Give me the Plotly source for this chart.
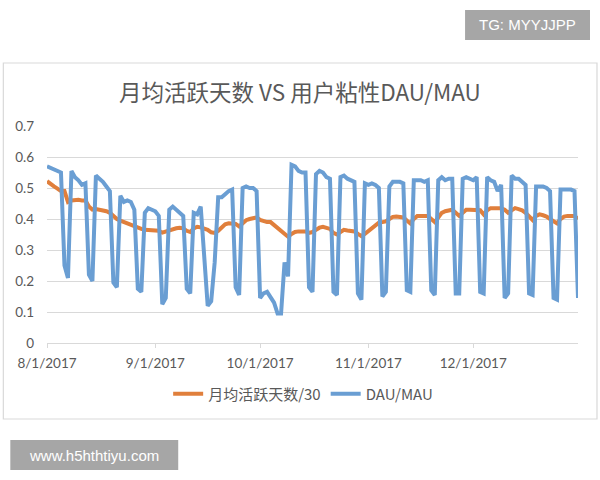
import plotly.graph_objects as go
import pandas as pd

# ---- data ----
dates = pd.date_range("2017-08-01", "2017-12-31", freq="D")

dau_mau = [
    0.57, 0.565, 0.56, 0.555, 0.55, 0.25, 0.21,
    0.555, 0.535, 0.525, 0.51, 0.515, 0.22, 0.20,
    0.54, 0.53, 0.52, 0.505, 0.49, 0.195, 0.18,
    0.475, 0.455, 0.46, 0.455, 0.43, 0.175, 0.165,
    0.42, 0.435, 0.43, 0.425, 0.41, 0.125, 0.145,
    0.43, 0.44, 0.43, 0.42, 0.41, 0.175, 0.16,
    0.42, 0.415, 0.44, 0.30, 0.12, 0.135, 0.26,
    0.47, 0.47, 0.48, 0.49, 0.495, 0.18, 0.155,
    0.50, 0.505, 0.50, 0.50, 0.49, 0.145, 0.16,
    0.165, 0.15, 0.13, 0.095, 0.095, 0.26, 0.215,
    0.575, 0.57, 0.555, 0.55, 0.55, 0.18, 0.165,
    0.545, 0.555, 0.55, 0.535, 0.53, 0.165, 0.155,
    0.535, 0.54, 0.53, 0.525, 0.52, 0.16, 0.14,
    0.515, 0.51, 0.515, 0.51, 0.50, 0.15, 0.165,
    0.505, 0.52, 0.52, 0.52, 0.515, 0.17, 0.165,
    0.525, 0.525, 0.525, 0.52, 0.525, 0.17, 0.155,
    0.525, 0.535, 0.525, 0.53, 0.53, 0.16, 0.16,
    0.53, 0.535, 0.53, 0.525, 0.535, 0.165, 0.16,
    0.535, 0.525, 0.52, 0.49, 0.51, 0.145, 0.16,
    0.54, 0.53, 0.53, 0.52, 0.51, 0.16, 0.155,
    0.505, 0.505, 0.505, 0.50, 0.49, 0.145, 0.14,
    0.495, 0.495, 0.495, 0.495, 0.49, 0.145,
]

avg_days_30 = [
    0.522, 0.512, 0.505, 0.498, 0.49, 0.49, 0.455,
    0.46, 0.462, 0.462, 0.46, 0.46, 0.44, 0.43,
    0.432, 0.43, 0.428, 0.425, 0.42, 0.408, 0.40,
    0.395, 0.39, 0.385, 0.38, 0.377, 0.372, 0.368,
    0.365, 0.364, 0.363, 0.363, 0.362, 0.356, 0.36,
    0.365, 0.367, 0.37, 0.372, 0.37, 0.362, 0.358,
    0.37, 0.375, 0.373, 0.37, 0.365, 0.357, 0.355,
    0.362, 0.372, 0.383, 0.386, 0.386, 0.384, 0.376,
    0.388, 0.396, 0.40, 0.404, 0.405, 0.397, 0.392,
    0.39, 0.39, 0.38, 0.372, 0.362, 0.35, 0.343,
    0.352, 0.358, 0.36, 0.36, 0.36, 0.355, 0.358,
    0.365, 0.372, 0.375, 0.372, 0.368, 0.355, 0.35,
    0.358, 0.365, 0.363, 0.362, 0.36, 0.352, 0.345,
    0.352, 0.362, 0.37, 0.38, 0.388, 0.39, 0.392,
    0.40, 0.407, 0.408, 0.408, 0.405, 0.395, 0.386,
    0.40, 0.41, 0.41, 0.41, 0.41, 0.40, 0.39,
    0.405, 0.42, 0.425, 0.428, 0.43, 0.42, 0.41,
    0.42, 0.43, 0.43, 0.43, 0.43, 0.428, 0.415,
    0.428, 0.435, 0.435, 0.435, 0.435, 0.43, 0.42,
    0.428, 0.435, 0.432, 0.428, 0.42, 0.408, 0.397,
    0.41, 0.415, 0.412, 0.408, 0.40, 0.392, 0.386,
    0.40, 0.408, 0.41, 0.41, 0.41, 0.40,
]

x_tick_vals = ["2017-08-01", "2017-09-01", "2017-10-01", "2017-11-01", "2017-12-01"]
x_tick_text = ["8/1/2017", "9/1/2017", "10/1/2017", "11/1/2017", "12/1/2017"]
y_tick_vals = [0, 0.1, 0.2, 0.3, 0.4, 0.5, 0.6, 0.7]
y_tick_text = ["0", "0.1", "0.2", "0.3", "0.4", "0.5", "0.6", "0.7"]

series_names = ["月均活跃天数/30", "DAU/MAU"]
title_text = "月均活跃天数 VS 用户粘性DAU/MAU"

# ---- styling ----
TXT = "#595959"
GRID = "#d9d9d9"
FONT = "Lato, 'Noto Sans CJK SC', sans-serif"

# plot area in pixels (page coordinates)
L, R, T, B = 46.7, 578.0, 126.0, 343.0
W, H = 600, 480

def px(xp):
    return (xp - L) / (R - L)

def py(yp):
    return (B - yp) / (B - T)

fig = go.Figure()
fig.add_trace(go.Scatter(x=dates, y=avg_days_30, mode="lines", name=series_names[0],
                         line=dict(color="#e07f3c", width=4)))
fig.add_trace(go.Scatter(x=dates, y=dau_mau, mode="lines", name=series_names[1],
                         line=dict(color="#6a9ed3", width=4)))

shapes = [
    dict(type="rect", xref="paper", yref="paper", x0=px(3), x1=px(597), y0=py(419), y1=py(63),
         line=dict(color="#d9d9d9", width=1.2), fillcolor="rgba(0,0,0,0)", layer="below"),
    dict(type="rect", xref="paper", yref="paper", x0=px(465), x1=px(590), y0=py(40), y1=py(10),
         line=dict(width=0), fillcolor="#a6a6a6"),
    dict(type="rect", xref="paper", yref="paper", x0=px(10), x1=px(178), y0=py(470), y1=py(440),
         line=dict(width=0), fillcolor="#a6a6a6"),
]

annotations = [
    dict(text=title_text, xref="paper", yref="paper", x=px(300), y=py(91), showarrow=False,
         xanchor="center", yanchor="middle",
         font=dict(family="'Noto Sans CJK SC', sans-serif", size=22.5, color=TXT)),
    dict(text="TG: MYYJJPP", xref="paper", yref="paper", x=px(527.5), y=py(25), showarrow=False,
         xanchor="center", yanchor="middle",
         font=dict(family="'Liberation Sans', Arial, sans-serif", size=15, color="white")),
    dict(text="www.h5hthtiyu.com", xref="paper", yref="paper", x=px(94), y=py(455), showarrow=False,
         xanchor="center", yanchor="middle",
         font=dict(family="'Liberation Sans', Arial, sans-serif", size=15, color="white")),
]

fig.update_layout(
    width=W, height=H,
    margin=dict(l=L, r=W - R, t=T, b=H - B, pad=0),
    paper_bgcolor="white", plot_bgcolor="white",
    font=dict(family=FONT, size=13, color=TXT),
    showlegend=True,
    legend=dict(orientation="h", x=px(303), y=py(394), xanchor="center", yanchor="middle",
                font=dict(family="'Noto Sans CJK SC', Lato, sans-serif", size=15, color=TXT),
                itemwidth=30, bgcolor="rgba(0,0,0,0)"),
    shapes=shapes,
    annotations=annotations,
)

fig.update_xaxes(
    type="date", range=["2017-08-01", "2017-12-31"],
    tickvals=x_tick_vals, ticktext=x_tick_text,
    showgrid=False, showline=True, linecolor=GRID, linewidth=1,
    ticks="outside", ticklen=4, tickcolor=GRID, ticklabelstandoff=4,
    tickfont=dict(family=FONT, size=13.5, color=TXT),
    zeroline=False,
)
fig.update_yaxes(
    range=[0, 0.7], tickvals=y_tick_vals, ticktext=y_tick_text,
    showgrid=True, gridcolor=GRID, gridwidth=1,
    showline=False, zeroline=False, ticks="", ticklabelstandoff=12,
    tickfont=dict(family=FONT, size=13.5, color=TXT),
)

fig.write_html(
    "out.html",
    config={"displayModeBar": False},
    post_script="document.body.style.margin='0';document.body.style.overflow='hidden';",
)
